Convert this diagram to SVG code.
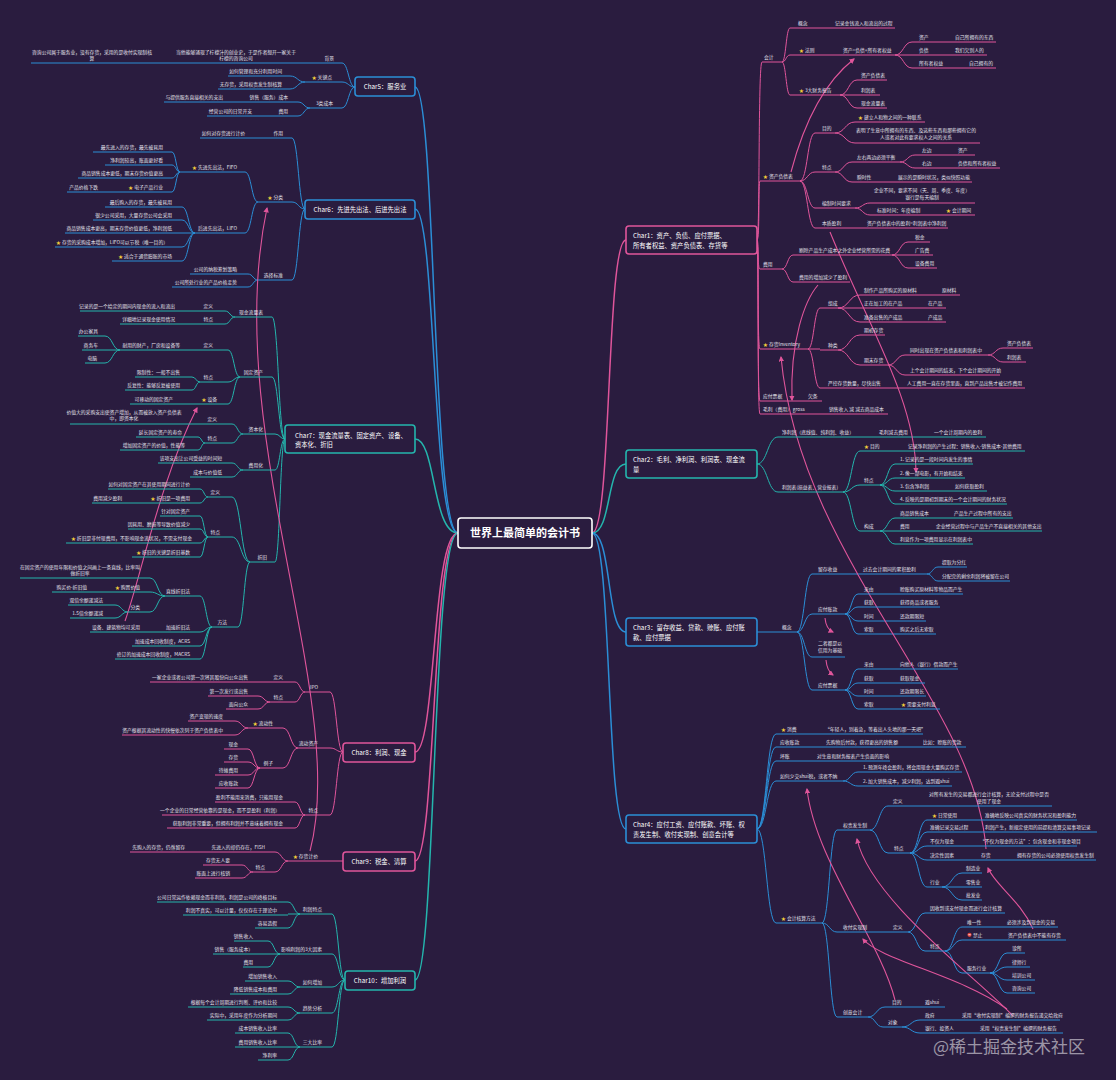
<svg xmlns="http://www.w3.org/2000/svg" width="1116" height="1080" viewBox="0 0 1116 1080">
<defs>
<marker id="arr" viewBox="0 0 10 10" refX="8" refY="5" markerWidth="5" markerHeight="5" orient="auto"><path d="M0 0L10 5L0 10z" fill="#e0559b"/></marker>
</defs>
<style>
.t{font-family:"Noto Sans CJK SC","Noto Sans",sans-serif;font-size:4.8px;fill:#e6e4ee}
.e{text-anchor:end}
.m{text-anchor:middle}
.s{fill:#f6d23a}
.P,.G,.B{fill:none;stroke-width:1}
.P{stroke:#e0559b}.G{stroke:#24b5ad}.B{stroke:#2b8ed6}
.L{stroke-width:1.5}
.bx{fill:#2a1c3f;stroke-width:1.6}
.ct{font-family:"Noto Sans CJK SC","Noto Sans",sans-serif;font-size:6.3px;fill:#ffffff}
.rel{fill:none;stroke:#e0559b;stroke-width:1.1;marker-end:url(#arr)}
</style>
<rect width="1116" height="1080" fill="#2a1c3f"/>

<g id="connectors">
<path class="P L" d="M592 533C612 533 606 240 626 240"/>
<path class="G L" d="M592 533C612 533 606 464 626 464"/>
<path class="B L" d="M592 533C612 533 606 632 626 632"/>
<path class="B L" d="M592 533C612 533 606 829 626 829"/>
<path class="B L" d="M458 533C432 533 436 87 415 87"/>
<path class="B L" d="M458 533C432 533 436 209 415 209"/>
<path class="G L" d="M458 533C432 533 436 439 415 439"/>
<path class="P L" d="M458 533C432 533 436 752 415 752"/>
<path class="P L" d="M458 533C432 533 436 861 415 861"/>
<path class="G L" d="M458 533C432 533 436 980 415 980"/>

<path class="P" d="M757 240C760 240 758 62 762 62M757 240C760 240 758 181 760 181M757 240C759 240 757 269 760 269M757 240C759 240 757 349 760 349M757 240C759 240 757 401 760 401M757 240C759 240 757 414 760 414"/>
<path class="P" d="M782 62C786 62 786 28 790 28M782 62C786 62 786 55 790 55M782 62C786 62 786 95 790 95M812 28H830M822 55H838M895 55C903.5 55 903.5 42 912 42M895 55H912M895 55C903.5 55 903.5 68 912 68M935 42H950M935 55H950M947 68H965M840 95C848.5 95 848.5 80 857 80M840 95H857M840 95C848.5 95 848.5 108 857 108"/>
<path class="P" d="M800 181C807.5 181 807.5 133 815 133M800 181C807.5 181 807.5 172 815 172M800 181C807.5 181 807.5 208 815 208M800 181C807.5 181 807.5 228 815 228M835 133C845 133 845 122 855 122M835 133C845 133 845 143 855 143M835 172C843.5 172 843.5 162 852 162M835 172C843.5 172 843.5 182 852 182M900 162C907.5 162 907.5 155 915 155M900 162C907.5 162 907.5 168 915 168M937 155H952M937 168H952M877 182H893M855 208C862.5 208 862.5 203 870 203M855 208C862.5 208 862.5 215 870 215M922 215H942M845 228H862"/>
<path class="P" d="M782 269C787.5 269 787.5 255 793 255M782 269C787.5 269 787.5 282 793 282M892 255C900 255 900 242 908 242M892 255H908M892 255C900 255 900 268 908 268"/>
<path class="P" d="M808 349C814 349 814 308 820 308M808 349H820M808 349C814 349 814 388 820 388M838 308C849 308 849 295 860 295M838 308H860M838 308C849 308 849 322 860 322M918 295H938M907 308H924M907 322H924M838 350C849 350 849 335 860 335M838 350C849 350 849 365 860 365M888 365C896.5 365 896.5 355 905 355M888 365C896.5 365 896.5 375 905 375M988 355C995.5 355 995.5 348 1003 348M988 355C995.5 355 995.5 362 1003 362M885 388H902M790 401H803M815 414H825"/>

<path class="G" d="M757 464C767.5 464 767.5 437 778 437M757 464C767.5 464 767.5 492 778 492M852 437H874M910 437H930M843 492C851.5 492 851.5 451 860 451M843 492C851.5 492 851.5 485 860 485M843 492C851.5 492 851.5 531 860 531M885 451H903M880 485C887.5 485 887.5 464 895 464M880 485C887.5 485 887.5 478 895 478M880 485C887.5 485 887.5 491 895 491M880 485C887.5 485 887.5 504 895 504M932 491H950M880 531C887.5 531 887.5 518 895 518M880 531H895M880 531C887.5 531 887.5 544 895 544M932 518H950M912 531H932"/>

<path class="B" d="M757 632H775M797 632C804.5 632 804.5 574 812 574M797 632C804.5 632 804.5 614 812 614M797 632C804.5 632 804.5 657 812 657M797 632C804.5 632 804.5 690 812 690M845 574H858M927 574C932.5 574 932.5 567 938 567M927 574C932.5 574 932.5 581 938 581M845 614C851.5 614 851.5 594 858 594M845 614C851.5 614 851.5 607 858 607M845 614C851.5 614 851.5 621 858 621M845 614C851.5 614 851.5 634 858 634M880 594H896M880 607H896M880 621H896M880 634H896M845 690C851.5 690 851.5 669 858 669M845 690C851.5 690 851.5 683 858 683M845 690C851.5 690 851.5 696 858 696M845 690C851.5 690 851.5 709 858 709M880 669H896M880 683H896M880 696H896M880 709H896"/>

<path class="B" d="M757 829C766.5 829 766.5 734 776 734M757 829C766.5 829 766.5 747 776 747M757 829C766.5 829 766.5 761 776 761M757 829C766.5 829 766.5 781 776 781M757 829C766.5 829 766.5 923 776 923M800 734H820M806 747H820M900 747H918M795 761H812M843 781C850.5 781 850.5 772 858 772M843 781C850.5 781 850.5 786 858 786"/>
<path class="B" d="M822 923C829.5 923 829.5 830 837 830M822 923C829.5 923 829.5 932 837 932M822 923C829.5 923 829.5 1017 837 1017M870 830C879 830 879 806 888 806M870 830C879 830 879 853 888 853M908 806H925M910 853C918.5 853 918.5 820 927 820M910 853C918.5 853 918.5 832 927 832M910 853C918.5 853 918.5 846 927 846M910 853C918.5 853 918.5 860 927 860M910 853C918.5 853 918.5 887 927 887M963 820H980M970 832H980M956 846H975M956 860H976M995 860H1012M942 887C952 887 952 873 962 873M942 887H962M942 887C952 887 952 900 962 900"/>
<path class="B" d="M870 932H888M908 932C916.5 932 916.5 913 925 913M908 932C916.5 932 916.5 951 925 951M945 951C953.5 951 953.5 927 962 927M945 951C953.5 951 953.5 940 962 940M945 951C953.5 951 953.5 973 962 973M985 927H1002M988 940H1003M990 973C998.5 973 998.5 953 1007 953M990 973C998.5 973 998.5 967 1007 967M990 973C998.5 973 998.5 980 1007 980M990 973C998.5 973 998.5 993 1007 993M868 1017C876.5 1017 876.5 1007 885 1007M868 1017C875.5 1017 875.5 1027 883 1027M905 1007H920M902 1027C911 1027 911 1020 920 1020M902 1027C911 1027 911 1033 920 1033M940 1020H957M956 1033H975"/>

<path class="B" d="M355 87C348.5 87 348.5 63 342 63M355 87C348.5 87 348.5 82 342 82M355 87C348.5 87 348.5 108 342 108M318 63H300M175 63H155M305 82C297.5 82 297.5 76 290 76M305 82C297.5 82 297.5 89 290 89M310 108C304 108 304 102 298 102M310 108C304 108 304 116 298 116M245 102H240M275 116H270"/>
<path class="B" d="M305 209C298.5 209 298.5 138 292 138M305 209C298.5 209 298.5 202 292 202M305 209C298.5 209 298.5 280 292 280M268 138H262M258 202C251.5 202 251.5 172 245 172M258 202C251.5 202 251.5 233 245 233M180 172C176 172 176 152 172 152M180 172C176 172 176 165 172 165M180 172C176 172 176 178 172 178M180 172C176 172 176 192 172 192M120 192H112M195 233C188.5 233 188.5 207 182 207M195 233C188.5 233 188.5 220 182 220M195 233H182M195 233C188.5 233 188.5 247 182 247M195 233C188.5 233 188.5 261 182 261M258 280C253 280 253 274 248 274M258 280C253 280 253 287 248 287"/>
<path class="G" d="M285 439C278.5 439 278.5 317 272 317M285 439C278.5 439 278.5 377 272 377M285 439C280 439 280 434 275 434M285 439C280 439 280 470 275 470M285 439C280 439 280 562 275 562M235 317C230 317 230 311 225 311M235 317C230 317 230 324 225 324M198 311H192M198 324H192M240 377C234 377 234 350 228 350M240 377C234 377 234 382 228 382M240 377C234 377 234 404 228 404M200 350H195M120 350C112.5 350 112.5 336 105 336M120 350H105M120 350C112.5 350 112.5 363 105 363M200 382C196 382 196 377 192 377M200 382C196 382 196 390 192 390M197 404H190"/>
<path class="G" d="M243 434C237.5 434 237.5 424 232 424M243 434C237.5 434 237.5 443 232 443M205 424H195M205 443C201.5 443 201.5 437 198 437M205 443C201.5 443 201.5 450 198 450M243 470C237.5 470 237.5 463 232 463M243 470C237.5 470 237.5 477 232 477M250 562C241 562 241 497 232 497M250 562C241 562 241 537 232 537M250 562C244 562 244 627 238 627M208 497C204 497 204 489 200 489M208 497C204 497 204 503 200 503M147 503H140M208 537C204 537 204 516 200 516M208 537C204 537 204 529 200 529M208 537C204 537 204 543 200 543M208 537C204 537 204 557 200 557M212 627C206 627 206 596 200 596M212 627C206 627 206 632 200 632M212 627C206 627 206 646 200 646M212 627C206 627 206 659 200 659M165 596C157.5 596 157.5 578 150 578M165 596C157.5 596 157.5 592 150 592M165 596C157.5 596 157.5 612 150 612M110 592H100M128 612C121.5 612 121.5 605 115 605M128 612C121.5 612 121.5 618 115 618M165 632H155"/>
<path class="P" d="M343 752C336.5 752 336.5 692 330 692M343 752C336.5 752 336.5 748 330 748M343 752C336.5 752 336.5 815 330 815M305 692C300 692 300 682 295 682M305 692C300 692 300 702 295 702M270 682H262M270 702C264 702 264 696 258 696M270 702C264 702 264 709 258 709M298 748C290.5 748 290.5 728 283 728M298 748C290.5 748 290.5 768 283 768M248 728C241.5 728 241.5 721 235 721M248 728C241.5 728 241.5 735 235 735M260 768C254 768 254 749 248 749M260 768C254 768 254 762 248 762M260 768C254 768 254 775 248 775M260 768C254 768 254 788 248 788M305 815C300 815 300 802 295 802M305 815H295M305 815C300 815 300 828 295 828"/>
<path class="P" d="M343 861H330M288 861C281.5 861 281.5 852 275 852M288 861C281.5 861 281.5 872 275 872M210 852H205M253 872C247.5 872 247.5 865 242 865M253 872C247.5 872 247.5 878 242 878"/>
<path class="G" d="M345 980C338.5 980 338.5 914 332 914M345 980C338.5 980 338.5 954 332 954M345 980C338.5 980 338.5 987 332 987M345 980C338.5 980 338.5 1013 332 1013M345 980C338.5 980 338.5 1047 332 1047M300 914C294 914 294 902 288 902M300 914H288M300 914C294 914 294 928 288 928M280 954C274 954 274 941 268 941M280 954H268M280 954C274 954 274 967 268 967M300 987C294 987 294 981 288 981M300 987C294 987 294 994 288 994M300 1013C294 1013 294 1007 288 1007M300 1013C294 1013 294 1020 288 1020M300 1047C294 1047 294 1033 288 1033M300 1047H288M300 1047C294 1047 294 1060 288 1060"/>
</g>

<g id="relations">
<path class="rel" d="M791 172Q812 92 854 59"/>
<path class="rel" d="M818 285C805 300 790 340 792 400"/>
<path class="rel" d="M986 849C975 700 800 560 781 357"/>
<path class="rel" d="M830 232C870 330 915 400 916 472"/>
<path class="rel" d="M825 618Q826 629 833 632"/>
<path class="rel" d="M826 660Q827 671 833 675"/>
<path class="rel" d="M895 1000C880 940 815 860 807 789"/>
<path class="rel" d="M1013 1016C980 980 870 900 857 839"/>
<path class="rel" d="M1007 1009C960 975 880 960 863 939"/>
<path class="rel" d="M1033 929C1020 900 995 885 988 868"/>
<path class="rel" d="M310 851C350 700 220 430 267 208"/>
<path class="rel" d="M125 621C140 580 160 480 197 408"/>
</g>

<g id="root"><rect x="458" y="518" width="134" height="30" rx="3" fill="#2a1c3f" stroke="#ffffff" stroke-width="1.6"/><text x="525" y="537" text-anchor="middle" font-family="Noto Sans CJK SC, Noto Sans, sans-serif" font-size="11" font-weight="bold" fill="#ffffff">世界上最简单的会计书</text></g>

<g id="char1"><rect class="bx" x="626" y="226" width="131" height="28" rx="3" stroke="#e0559b"/><text class="ct" x="633" y="237.5">Char1：资产、负债、应付票据、</text><text class="ct" x="633" y="247.5">所有者权益、资产负债表、存货等</text></g>
<g id="char2"><rect class="bx" x="626" y="450" width="131" height="28" rx="3" stroke="#24b5ad"/><text class="ct" x="633" y="461.5">Char2：毛利、净利润、利润表、现金流</text><text class="ct" x="633" y="471.5">量</text></g>
<g id="char3"><rect class="bx" x="626" y="618" width="131" height="28" rx="3" stroke="#2b8ed6"/><text class="ct" x="633" y="629.5">Char3：留存收益、贷款、赊账、应付账</text><text class="ct" x="633" y="639.5">款、应付票据</text></g>
<g id="char4"><rect class="bx" x="626" y="815" width="131" height="28" rx="3" stroke="#2b8ed6"/><text class="ct" x="633" y="826.5">Char4：应付工资、应付账款、坏账、权</text><text class="ct" x="633" y="836.5">责发生制、收付实现制、创意会计等</text></g>
<g id="char5"><rect class="bx" x="355" y="77" width="60" height="19" rx="3" stroke="#2b8ed6"/><text class="ct m" x="385" y="89">Char5：服务业</text></g>
<g id="char6"><rect class="bx" x="305" y="200" width="110" height="19" rx="3" stroke="#2b8ed6"/><text class="ct m" x="360" y="212">Char6：先进先出法、后进先出法</text></g>
<g id="char7"><rect class="bx" x="285" y="425" width="130" height="28" rx="3" stroke="#24b5ad"/><text class="ct" x="295" y="438">Char7：现金流量表、固定资产、设备、</text><text class="ct" x="295" y="447">资本化、折旧</text></g>
<g id="char8"><rect class="bx" x="343" y="743" width="72" height="19" rx="3" stroke="#e0559b"/><text class="ct m" x="379" y="755">Char8：利润、现金</text></g>
<g id="char9"><rect class="bx" x="343" y="852" width="72" height="19" rx="3" stroke="#e0559b"/><text class="ct m" x="379" y="864">Char9：税金、清算</text></g>
<g id="char10"><rect class="bx" x="345" y="971" width="70" height="19" rx="3" stroke="#24b5ad"/><text class="ct m" x="380" y="983">Char10：增加利润</text></g>

<g id="c1nodes">
<g id="c1a"><text class="t" x="764" y="58.5">会计</text><path class="P" d="M762 62H782"/></g>
<g id="c1a1"><text class="t" x="798" y="24.5">概念</text><path class="P" d="M790 28H812"/></g>
<g id="c1a1a"><text class="t" x="835" y="24.5">记录金钱流入和流出的过程</text><path class="P" d="M830 28H895"/></g>
<g id="c1a2"><text class="t" x="799" y="51.5"><tspan class="s">★</tspan> 法则</text><path class="P" d="M790 55H822"/></g>
<g id="c1a2a"><text class="t" x="843" y="51.5">资产=负债+所有者权益</text><path class="P" d="M838 55H895"/></g>
<g id="c1a2a1"><text class="t" x="919" y="38.5">资产</text><path class="P" d="M912 42H935"/></g>
<g id="c1a2a1a"><text class="t" x="955" y="38.5">自己所拥有的东西</text><path class="P" d="M950 42H996"/></g>
<g id="c1a2a2"><text class="t" x="919" y="51.5">负债</text><path class="P" d="M912 55H935"/></g>
<g id="c1a2a2a"><text class="t" x="955" y="51.5">我们欠别人的</text><path class="P" d="M950 55H987"/></g>
<g id="c1a2a3"><text class="t" x="919" y="64.5">所有者权益</text><path class="P" d="M912 68H947"/></g>
<g id="c1a2a3a"><text class="t" x="969" y="64.5">自己拥有的</text><path class="P" d="M965 68H996"/></g>
<g id="c1a3"><text class="t" x="799" y="91.5"><tspan class="s">★</tspan> 3大财务报告</text><path class="P" d="M790 95H840"/></g>
<g id="c1a3a"><text class="t" x="861" y="76.5">资产负债表</text><path class="P" d="M857 80H887"/></g>
<g id="c1a3b"><text class="t" x="861" y="91.5">利润表</text><path class="P" d="M857 95H880"/></g>
<g id="c1a3c"><text class="t" x="861" y="104.5">现金流量表</text><path class="P" d="M857 108H887"/></g>

<g id="c1b"><text class="t" x="763" y="177.5"><tspan class="s">★</tspan> 资产负债表</text><path class="P" d="M760 181H800"/></g>
<g id="c1b1"><text class="t" x="822" y="129.5">目的</text><path class="P" d="M815 133H835"/></g>
<g id="c1b1a"><text class="t" x="858" y="118.5"><tspan class="s">★</tspan> 建立人和物之间的一种联系</text><path class="P" d="M855 122H925"/></g>
<g id="c1b1b"><text class="t m" x="916" y="131.5">表明了生意中所拥有的东西、及这些东西和那些拥有它的</text><text class="t m" x="916" y="138.5">人或者对此有要求权人之间的关系</text><path class="P" d="M855 143H980"/></g>
<g id="c1b2"><text class="t" x="822" y="168.5">特点</text><path class="P" d="M815 172H835"/></g>
<g id="c1b2a"><text class="t" x="857" y="158.5">左右两边必须平衡</text><path class="P" d="M852 162H900"/></g>
<g id="c1b2a1"><text class="t" x="922" y="151.5">左边</text><path class="P" d="M915 155H937"/></g>
<g id="c1b2a1a"><text class="t" x="958" y="151.5">资产</text><path class="P" d="M952 155H975"/></g>
<g id="c1b2a2"><text class="t" x="922" y="164.5">右边</text><path class="P" d="M915 168H937"/></g>
<g id="c1b2a2a"><text class="t" x="958" y="164.5">负债和所有者权益</text><path class="P" d="M952 168H1000"/></g>
<g id="c1b2b"><text class="t" x="857" y="178.5">瞬时性</text><path class="P" d="M852 182H877"/></g>
<g id="c1b2b1"><text class="t" x="898" y="178.5">展示的是瞬时状况，类似快照功能</text><path class="P" d="M893 182H972"/></g>
<g id="c1b3"><text class="t" x="822" y="204.5">编制时间要求</text><path class="P" d="M815 208H855"/></g>
<g id="c1b3a"><text class="t m" x="922" y="191.5">企业不同，要求不同（天、周、季度、年度）</text><text class="t m" x="922" y="198.5">银行是每天编制</text><path class="P" d="M870 203H975"/></g>
<g id="c1b3b"><text class="t" x="877" y="211.5">标准时间：年度编制</text><path class="P" d="M870 215H922"/></g>
<g id="c1b3b1"><text class="t" x="946" y="211.5"><tspan class="s">★</tspan> 会计期间</text><path class="P" d="M942 215H975"/></g>
<g id="c1b4"><text class="t" x="822" y="224.5">本质盈利</text><path class="P" d="M815 228H845"/></g>
<g id="c1b4a"><text class="t" x="867" y="224.5">资产负债表中的盈利=利润表中净利润</text><path class="P" d="M862 228H948"/></g>

<g id="c1c"><text class="t" x="763" y="265.5">费用</text><path class="P" d="M760 269H782"/></g>
<g id="c1c1"><text class="t" x="799" y="251.5">剔除产品生产成本之外企业经营所需的花费</text><path class="P" d="M793 255H892"/></g>
<g id="c1c1a"><text class="t" x="915" y="238.5">税金</text><path class="P" d="M908 242H930"/></g>
<g id="c1c1b"><text class="t" x="915" y="251.5">广告费</text><path class="P" d="M908 255H933"/></g>
<g id="c1c1c"><text class="t" x="915" y="264.5">设备费用</text><path class="P" d="M908 268H937"/></g>
<g id="c1c2"><text class="t" x="799" y="278.5">费用的增加减少了盈利</text><path class="P" d="M793 282H850"/></g>

<g id="c1d"><text class="t" x="763" y="345.5"><tspan class="s">★</tspan> 存货Inventory</text><path class="P" d="M760 349H808"/></g>
<g id="c1d1"><text class="t" x="828" y="304.5">组成</text><path class="P" d="M820 308H838"/></g>
<g id="c1d1a"><text class="t" x="864" y="291.5">制作产品所购买的原材料</text><path class="P" d="M860 295H918"/></g>
<g id="c1d1a1"><text class="t" x="942" y="291.5">原材料</text><path class="P" d="M938 295H960"/></g>
<g id="c1d1b"><text class="t" x="864" y="304.5">正在加工的在产品</text><path class="P" d="M860 308H907"/></g>
<g id="c1d1b1"><text class="t" x="928" y="304.5">在产品</text><path class="P" d="M924 308H946"/></g>
<g id="c1d1c"><text class="t" x="864" y="318.5">准备出售的产成品</text><path class="P" d="M860 322H907"/></g>
<g id="c1d1c1"><text class="t" x="928" y="318.5">产成品</text><path class="P" d="M924 322H946"/></g>
<g id="c1d2"><text class="t" x="828" y="346.5">种类</text><path class="P" d="M820 350H838"/></g>
<g id="c1d2a"><text class="t" x="864" y="331.5">期初存货</text><path class="P" d="M860 335H885"/></g>
<g id="c1d2b"><text class="t" x="864" y="361.5">期末存货</text><path class="P" d="M860 365H888"/></g>
<g id="c1d2b1"><text class="t" x="910" y="351.5">同时出现在资产负债表和利润表中</text><path class="P" d="M905 355H988"/></g>
<g id="c1d2b1a"><text class="t" x="1007" y="344.5">资产负债表</text><path class="P" d="M1003 348H1033"/></g>
<g id="c1d2b1b"><text class="t" x="1007" y="358.5">利润表</text><path class="P" d="M1003 362H1026"/></g>
<g id="c1d2b2"><text class="t" x="910" y="371.5">上个会计期间的结束，下个会计期间的开始</text><path class="P" d="M905 375H1000"/></g>
<g id="c1d3"><text class="t" x="828" y="384.5">严控存货数量，尽快出售</text><path class="P" d="M820 388H885"/></g>
<g id="c1d3a"><text class="t" x="907" y="384.5">人工费用一直在存货里面，直到产品出售才被记作费用</text><path class="P" d="M902 388H1025"/></g>
<g id="c1e"><text class="t" x="763" y="397.5">应付票据</text><path class="P" d="M760 401H790"/></g>
<g id="c1e1"><text class="t" x="808" y="397.5">欠条</text><path class="P" d="M803 401H822"/></g>
<g id="c1f"><text class="t" x="763" y="410.5">毛利（费用） gross</text><path class="P" d="M760 414H815"/></g>
<g id="c1f1"><text class="t" x="829" y="410.5">销售收入 减 减去商品成本</text><path class="P" d="M825 414H888"/></g>
</g>

<g id="c2nodes">
<g id="c2a"><text class="t" x="782" y="433.5">净利润（底线值、纯利润、收益）</text><path class="G" d="M778 437H852"/></g>
<g id="c2a1"><text class="t" x="879" y="433.5">毛利减去费用</text><path class="G" d="M874 437H910"/></g>
<g id="c2a2"><text class="t" x="934" y="433.5">一个会计周期内的盈利</text><path class="G" d="M930 437H986"/></g>
<g id="c2b"><text class="t" x="782" y="488.5">利润表(损益表、营业报表)</text><path class="G" d="M778 492H843"/></g>
<g id="c2b1"><text class="t" x="864" y="447.5"><tspan class="s">★</tspan> 目的</text><path class="G" d="M860 451H885"/></g>
<g id="c2b1a"><text class="t" x="908" y="447.5">记录净利润的产生过程：销售收入-销售成本-其他费用</text><path class="G" d="M903 451H1025"/></g>
<g id="c2b2"><text class="t" x="864" y="481.5">特点</text><path class="G" d="M860 485H880"/></g>
<g id="c2b2a"><text class="t" x="900" y="460.5">1. 记录的是一段时间内发生的事情</text><path class="G" d="M895 464H973"/></g>
<g id="c2b2b"><text class="t" x="900" y="474.5">2. 像一部电影，有开始和结束</text><path class="G" d="M895 478H965"/></g>
<g id="c2b2c"><text class="t" x="900" y="487.5">3. 包含净利润</text><path class="G" d="M895 491H932"/></g>
<g id="c2b2c1"><text class="t" x="955" y="487.5">如何获取盈利</text><path class="G" d="M950 491H987"/></g>
<g id="c2b2d"><text class="t" x="900" y="500.5">4. 反映的是期初到期末的一个会计期间的财务状况</text><path class="G" d="M895 504H1007"/></g>
<g id="c2b3"><text class="t" x="864" y="527.5">构成</text><path class="G" d="M860 531H880"/></g>
<g id="c2b3a"><text class="t" x="900" y="514.5">商品销售成本</text><path class="G" d="M895 518H932"/></g>
<g id="c2b3a1"><text class="t" x="954" y="514.5">产品生产过程中所有的支出</text><path class="G" d="M950 518H1013"/></g>
<g id="c2b3b"><text class="t" x="900" y="527.5">费用</text><path class="G" d="M895 531H912"/></g>
<g id="c2b3b1"><text class="t" x="936" y="527.5">企业经营过程中与产品生产不直接相关的其他支出</text><path class="G" d="M932 531H1042"/></g>
<g id="c2b3c"><text class="t" x="900" y="540.5">利息作为一项费用显示在利润表中</text><path class="G" d="M895 544H973"/></g>
</g>

<g id="c3nodes">
<g id="c3a"><text class="t" x="782" y="628.5">概念</text><path class="B" d="M775 632H797"/></g>
<g id="c3a1"><text class="t" x="818" y="570.5">留存收益</text><path class="B" d="M812 574H845"/></g>
<g id="c3a1a"><text class="t" x="863" y="570.5">过去会计期间的累积盈利</text><path class="B" d="M858 574H927"/></g>
<g id="c3a1a1"><text class="t" x="942" y="563.5">提取为分红</text><path class="B" d="M938 567H967"/></g>
<g id="c3a1a2"><text class="t" x="942" y="577.5">分配完的剩余利润将被留在公司</text><path class="B" d="M938 581H1010"/></g>
<g id="c3a2"><text class="t" x="818" y="610.5">应付账款</text><path class="B" d="M812 614H845"/></g>
<g id="c3a2a"><text class="t" x="864" y="590.5">来由</text><path class="B" d="M858 594H880"/></g>
<g id="c3a2a1"><text class="t" x="900" y="590.5">赊账购买原材料等物品而产生</text><path class="B" d="M896 594H963"/></g>
<g id="c3a2b"><text class="t" x="864" y="603.5">获取</text><path class="B" d="M858 607H880"/></g>
<g id="c3a2b1"><text class="t" x="900" y="603.5">获得商品或者服务</text><path class="B" d="M896 607H940"/></g>
<g id="c3a2c"><text class="t" x="864" y="617.5">时间</text><path class="B" d="M858 621H880"/></g>
<g id="c3a2c1"><text class="t" x="900" y="617.5">还款期限短</text><path class="B" d="M896 621H926"/></g>
<g id="c3a2d"><text class="t" x="864" y="630.5">索取</text><path class="B" d="M858 634H880"/></g>
<g id="c3a2d1"><text class="t" x="900" y="630.5">购买之后无索取</text><path class="B" d="M896 634H936"/></g>
<g id="c3a3"><text class="t" x="818" y="645">二者都是以</text><text class="t" x="818" y="651.5">信用为基础</text><path class="B" d="M812 657H845"/></g>
<g id="c3a4"><text class="t" x="818" y="686.5">应付票据</text><path class="B" d="M812 690H845"/></g>
<g id="c3a4a"><text class="t" x="864" y="665.5">来由</text><path class="B" d="M858 669H880"/></g>
<g id="c3a4a1"><text class="t" x="900" y="665.5">向他人（银行）借款而产生</text><path class="B" d="M896 669H958"/></g>
<g id="c3a4b"><text class="t" x="864" y="679.5">获取</text><path class="B" d="M858 683H880"/></g>
<g id="c3a4b1"><text class="t" x="900" y="679.5">获取现金</text><path class="B" d="M896 683H925"/></g>
<g id="c3a4c"><text class="t" x="864" y="692.5">时间</text><path class="B" d="M858 696H880"/></g>
<g id="c3a4c1"><text class="t" x="900" y="692.5">还款期限长</text><path class="B" d="M896 696H926"/></g>
<g id="c3a4d"><text class="t" x="864" y="705.5">索取</text><path class="B" d="M858 709H880"/></g>
<g id="c3a4d1"><text class="t" x="901" y="705.5"><tspan class="s">★</tspan> 需要支付利息</text><path class="B" d="M896 709H940"/></g>
</g>

<g id="c4nodes">
<g id="c4a"><text class="t" x="781" y="730.5"><tspan class="s">★</tspan> 消费</text><path class="B" d="M776 734H800"/></g>
<g id="c4a1"><text class="t" x="825" y="730.5">“年轻人，别着急，等着出人头地的那一天吧”</text><path class="B" d="M820 734H923"/></g>
<g id="c4b"><text class="t" x="780" y="743.5">应收账款</text><path class="B" d="M776 747H806"/></g>
<g id="c4b1"><text class="t" x="826" y="743.5">先购物后付款，获得更高的销售额</text><path class="B" d="M820 747H900"/></g>
<g id="c4b2"><text class="t" x="923" y="743.5">比如：赊账的货款</text><path class="B" d="M918 747H966"/></g>
<g id="c4c"><text class="t" x="780" y="757.5">坏账</text><path class="B" d="M776 761H795"/></g>
<g id="c4c1"><text class="t" x="817" y="757.5">对生意和财务报表产生负面的影响</text><path class="B" d="M812 761H890"/></g>
<g id="c4d"><text class="t" x="780" y="777.5">如何少交shui税，或者不纳</text><path class="B" d="M776 781H843"/></g>
<g id="c4d1"><text class="t" x="863" y="768.5">1. 预测年终会盈利，将会用现金大量购买存货</text><path class="B" d="M858 772H962"/></g>
<g id="c4d2"><text class="t" x="863" y="782.5">2. 加大销售成本，减少利润，达到避shui</text><path class="B" d="M858 786H952"/></g>
<g id="c4e"><text class="t" x="781" y="919.5"><tspan class="s">★</tspan> 会计核算方法</text><path class="B" d="M776 923H822"/></g>
<g id="c4e1"><text class="t" x="843" y="826.5">权责发生制</text><path class="B" d="M837 830H870"/></g>
<g id="c4e1a"><text class="t" x="893" y="802.5">定义</text><path class="B" d="M888 806H908"/></g>
<g id="c4e1a1"><text class="t m" x="989" y="796">对所有发生的交易都进行会计核算，无论支付过程中是否</text><text class="t m" x="989" y="802.5">使用了现金</text><path class="B" d="M925 806H1052"/></g>
<g id="c4e1b"><text class="t" x="894" y="849.5">特点</text><path class="B" d="M888 853H910"/></g>
<g id="c4e1b1"><text class="t" x="932" y="816.5"><tspan class="s">★</tspan> 日常使用</text><path class="B" d="M927 820H963"/></g>
<g id="c4e1b1a"><text class="t" x="985" y="816.5">准确地反映公司真实的财务状况和盈利能力</text><path class="B" d="M980 820H1077"/></g>
<g id="c4e1b2"><text class="t" x="930" y="828.5">准确记录交易过程</text><path class="B" d="M927 832H970"/></g>
<g id="c4e1b2a"><text class="t" x="985" y="828.5">利润产生，新规定使用的前提和清算交易事项记录</text><path class="B" d="M980 832H1097"/></g>
<g id="c4e1b3"><text class="t" x="930" y="842.5">不仅为现金</text><path class="B" d="M927 846H956"/></g>
<g id="c4e1b3a"><text class="t" x="980" y="842.5">“不仅为现金的方法”：包含现金和非现金项目</text><path class="B" d="M975 846H1077"/></g>
<g id="c4e1b4"><text class="t" x="930" y="856.5">决定性因素</text><path class="B" d="M927 860H956"/></g>
<g id="c4e1b4a"><text class="t" x="981" y="856.5">存货</text><path class="B" d="M976 860H995"/></g>
<g id="c4e1b4b"><text class="t" x="1017" y="856.5">拥有存货的公司必须使用权责发生制</text><path class="B" d="M1012 860H1096"/></g>
<g id="c4e1b5"><text class="t" x="930" y="883.5">行业</text><path class="B" d="M927 887H942"/></g>
<g id="c4e1b5a"><text class="t" x="966" y="869.5">制造业</text><path class="B" d="M962 873H982"/></g>
<g id="c4e1b5b"><text class="t" x="966" y="883.5">零售业</text><path class="B" d="M962 887H982"/></g>
<g id="c4e1b5c"><text class="t" x="966" y="896.5">批发业</text><path class="B" d="M962 900H982"/></g>
<g id="c4e2"><text class="t" x="843" y="928.5">收付实现制</text><path class="B" d="M837 932H870"/></g>
<g id="c4e2a"><text class="t" x="893" y="928.5">定义</text><path class="B" d="M888 932H908"/></g>
<g id="c4e2a1"><text class="t" x="930" y="909.5">因收到或支付现金而进行会计核算</text><path class="B" d="M925 913H1005"/></g>
<g id="c4e2b"><text class="t" x="930" y="947.5">特点</text><path class="B" d="M925 951H945"/></g>
<g id="c4e2b1"><text class="t" x="967" y="923.5">唯一性</text><path class="B" d="M962 927H985"/></g>
<g id="c4e2b1a"><text class="t" x="1007" y="923.5">必须涉及到现金的交易</text><path class="B" d="M1002 927H1058"/></g>
<g id="c4e2b2"><circle cx="969.5" cy="934.8" r="2.1" fill="#e0403a"/><rect x="968.3" y="934.4" width="2.4" height="0.8" fill="#ffffff"/><text class="t" x="973" y="936.5">禁止</text><path class="B" d="M962 940H988"/></g>
<g id="c4e2b2a"><text class="t" x="1008" y="936.5">资产负债表中不能有存货</text><path class="B" d="M1003 940H1066"/></g>
<g id="c4e2b3"><text class="t" x="967" y="969.5">服务行业</text><path class="B" d="M962 973H990"/></g>
<g id="c4e2b3a"><text class="t" x="1012" y="949.5">诊所</text><path class="B" d="M1007 953H1025"/></g>
<g id="c4e2b3b"><text class="t" x="1012" y="963.5">律师行</text><path class="B" d="M1007 967H1030"/></g>
<g id="c4e2b3c"><text class="t" x="1012" y="976.5">培训公司</text><path class="B" d="M1007 980H1035"/></g>
<g id="c4e2b3d"><text class="t" x="1012" y="989.5">咨询公司</text><path class="B" d="M1007 993H1035"/></g>
<g id="c4e3"><text class="t" x="843" y="1013.5">创意会计</text><path class="B" d="M837 1017H868"/></g>
<g id="c4e3a"><text class="t" x="892" y="1003.5">目的</text><path class="B" d="M885 1007H905"/></g>
<g id="c4e3a1"><text class="t" x="925" y="1003.5">避shui</text><path class="B" d="M920 1007H945"/></g>
<g id="c4e3b"><text class="t" x="888" y="1023.5">对象</text><path class="B" d="M883 1027H902"/></g>
<g id="c4e3b1"><text class="t" x="925" y="1016.5">政府</text><path class="B" d="M920 1020H940"/></g>
<g id="c4e3b1a"><text class="t" x="962" y="1016.5">采用“收付实现制”编撰的财务报告递交给政府</text><path class="B" d="M957 1020H1060"/></g>
<g id="c4e3b2"><text class="t" x="925" y="1029.5">银行、投资人</text><path class="B" d="M920 1033H956"/></g>
<g id="c4e3b2a"><text class="t" x="980" y="1029.5">采用“权责发生制”编撰的财务报告</text><path class="B" d="M975 1033H1063"/></g>
</g>

<g id="c5nodes">
<g id="c5a"><text class="t e" x="334" y="59.5">背景</text><path class="B" d="M318 63H342"/></g>
<g id="c5a1"><text class="t m" x="236" y="53.5">当他能够涌现了柠檬汁的创业史，于是作者想开一家关于</text><text class="t m" x="236" y="60">柠檬的咨询公司</text><path class="B" d="M175 63H300"/></g>
<g id="c5a2"><text class="t m" x="92" y="53.5">咨询公司属于服务业，没有存货，采用的是收付实现制核</text><text class="t m" x="92" y="60">算</text><path class="B" d="M31 63H155"/></g>
<g id="c5b"><text class="t e" x="332" y="78.5"><tspan class="s">★</tspan> 关键点</text><path class="B" d="M305 82H342"/></g>
<g id="c5b1"><text class="t e" x="282" y="72.5">如何管理和充分利用时间</text><path class="B" d="M228 76H290"/></g>
<g id="c5b2"><text class="t e" x="282" y="85.5">无存货，采用权责发生制核算</text><path class="B" d="M218 89H290"/></g>
<g id="c5c"><text class="t e" x="333" y="104.5">3类成本</text><path class="B" d="M310 108H342"/></g>
<g id="c5c1"><text class="t e" x="288" y="98.5">销售（服务）成本</text><path class="B" d="M245 102H298"/></g>
<g id="c5c1a"><text class="t e" x="223" y="98.5">与提供服务直接相关的支出</text><path class="B" d="M164 102H240"/></g>
<g id="c5c2"><text class="t e" x="288" y="112.5">费用</text><path class="B" d="M275 116H298"/></g>
<g id="c5c2a"><text class="t e" x="252" y="112.5">经营公司的日常开支</text><path class="B" d="M207 116H270"/></g>
</g>

<g id="c6nodes">
<g id="c6a"><text class="t e" x="283" y="134.5">作用</text><path class="B" d="M268 138H292"/></g>
<g id="c6a1"><text class="t e" x="245" y="134.5">如何对存货进行计价</text><path class="B" d="M200 138H262"/></g>
<g id="c6b"><text class="t e" x="283" y="198.5"><tspan class="s">★</tspan> 分类</text><path class="B" d="M258 202H292"/></g>
<g id="c6b1"><text class="t e" x="237" y="168.5"><tspan class="s">★</tspan> 先进先出法，FIFO</text><path class="B" d="M180 172H245"/></g>
<g id="c6b1a"><text class="t e" x="163" y="148.5">最先进入的存货，最先被耗用</text><path class="B" d="M93 152H172"/></g>
<g id="c6b1b"><text class="t e" x="163" y="161.5">净利润较高，账面更好看</text><path class="B" d="M105 165H172"/></g>
<g id="c6b1c"><text class="t e" x="163" y="174.5">商品销售成本更低，期末存货价值更高</text><path class="B" d="M78 178H172"/></g>
<g id="c6b1d"><text class="t e" x="163" y="188.5"><tspan class="s">★</tspan> 电子产品行业</text><path class="B" d="M120 192H172"/></g>
<g id="c6b1d1"><text class="t e" x="98" y="188.5">产品价格下跌</text><path class="B" d="M67 192H112"/></g>
<g id="c6b2"><text class="t e" x="237" y="229.5">后进先出法，LIFO</text><path class="B" d="M195 233H245"/></g>
<g id="c6b2a"><text class="t e" x="172" y="203.5">最后购入的存货，最先被耗用</text><path class="B" d="M105 207H182"/></g>
<g id="c6b2b"><text class="t e" x="172" y="216.5">很少公司采用，大量存货公司会采用</text><path class="B" d="M93 220H182"/></g>
<g id="c6b2c"><text class="t e" x="172" y="229.5">商品销售成本更高，期末存货价值更低，净利润低</text><path class="B" d="M65 233H182"/></g>
<g id="c6b2d"><text class="t e" x="168" y="243.5"><tspan class="s">★</tspan> 存货的采购成本增加，LIFO可以节税（唯一目的）</text><path class="B" d="M55 247H182"/></g>
<g id="c6b2e"><text class="t e" x="172" y="257.5"><tspan class="s">★</tspan> 适合于通货膨胀的市场</text><path class="B" d="M112 261H182"/></g>
<g id="c6c"><text class="t e" x="283" y="276.5">选择标准</text><path class="B" d="M258 280H292"/></g>
<g id="c6c1"><text class="t e" x="237" y="270.5">公司的纳税筹划策略</text><path class="B" d="M190 274H248"/></g>
<g id="c6c2"><text class="t e" x="237" y="283.5">公司所处行业的产品价格走势</text><path class="B" d="M172 287H248"/></g>
</g>

<g id="c7nodes">
<g id="c7a"><text class="t e" x="263" y="313.5">现金流量表</text><path class="G" d="M235 317H272"/></g>
<g id="c7a1"><text class="t e" x="213" y="307.5">定义</text><path class="G" d="M198 311H225"/></g>
<g id="c7a1a"><text class="t e" x="175" y="307.5">记录的是一个给定的期间内现金的流入和流出</text><path class="G" d="M80 311H192"/></g>
<g id="c7a2"><text class="t e" x="213" y="320.5">特点</text><path class="G" d="M198 324H225"/></g>
<g id="c7a2a"><text class="t e" x="175" y="320.5">详细地记录现金使用情况</text><path class="G" d="M120 324H192"/></g>
<g id="c7b"><text class="t e" x="263" y="373.5">固定资产</text><path class="G" d="M240 377H272"/></g>
<g id="c7b1"><text class="t e" x="213" y="346.5">定义</text><path class="G" d="M200 350H228"/></g>
<g id="c7b1a"><text class="t e" x="180" y="346.5">耐用的财产，厂房和设备等</text><path class="G" d="M120 350H195"/></g>
<g id="c7b1a1"><text class="t e" x="98" y="332.5">办公家具</text><path class="G" d="M78 336H105"/></g>
<g id="c7b1a2"><text class="t e" x="98" y="346.5">商务车</text><path class="G" d="M82 350H105"/></g>
<g id="c7b1a3"><text class="t e" x="97" y="359.5">电脑</text><path class="G" d="M85 363H105"/></g>
<g id="c7b2"><text class="t e" x="213" y="378.5">特点</text><path class="G" d="M200 382H228"/></g>
<g id="c7b2a"><text class="t e" x="180" y="373.5">限制性：一般不出售</text><path class="G" d="M135 377H192"/></g>
<g id="c7b2b"><text class="t e" x="180" y="386.5">反复性：能够反复被使用</text><path class="G" d="M125 390H192"/></g>
<g id="c7b3"><text class="t e" x="217" y="400.5"><tspan class="s">★</tspan> 设备</text><path class="G" d="M197 404H228"/></g>
<g id="c7b3a"><text class="t e" x="173" y="400.5">可移动的固定资产</text><path class="G" d="M130 404H190"/></g>
<g id="c7c"><text class="t e" x="263" y="430.5">资本化</text><path class="G" d="M243 434H275"/></g>
<g id="c7c1"><text class="t e" x="217" y="420.5">定义</text><path class="G" d="M205 424H232"/></g>
<g id="c7c1a"><text class="t m" x="124" y="413.5">价值大的采购支出使资产增加，从而被放入资产负债表</text><text class="t m" x="124" y="420">中，即资本化</text><path class="G" d="M70 424H195"/></g>
<g id="c7c2"><text class="t e" x="217" y="439.5">特点</text><path class="G" d="M205 443H232"/></g>
<g id="c7c2a"><text class="t e" x="182" y="433.5">延长固定资产的寿命</text><path class="G" d="M136 437H198"/></g>
<g id="c7c2b"><text class="t e" x="185" y="446.5">增加固定资产的价值，性能等</text><path class="G" d="M120 450H198"/></g>
<g id="c7d"><text class="t e" x="263" y="466.5">费用化</text><path class="G" d="M243 470H275"/></g>
<g id="c7d1"><text class="t e" x="222" y="459.5">该项支出让公司受益的时间短</text><path class="G" d="M158 463H232"/></g>
<g id="c7d2"><text class="t e" x="222" y="473.5">成本与价值低</text><path class="G" d="M190 477H232"/></g>
<g id="c7e"><text class="t e" x="267" y="558.5">折旧</text><path class="G" d="M250 562H275"/></g>
<g id="c7e1"><text class="t e" x="220" y="493.5">定义</text><path class="G" d="M208 497H232"/></g>
<g id="c7e1a"><text class="t e" x="190" y="485.5">如何对固定资产在其使用期间进行计价</text><path class="G" d="M108 489H200"/></g>
<g id="c7e1b"><text class="t e" x="190" y="499.5"><tspan class="s">★</tspan> 折旧是一项费用</text><path class="G" d="M147 503H200"/></g>
<g id="c7e1b1"><text class="t e" x="122" y="499.5">费用减少盈利</text><path class="G" d="M92 503H140"/></g>
<g id="c7e2"><text class="t e" x="220" y="533.5">特点</text><path class="G" d="M208 537H232"/></g>
<g id="c7e2a"><text class="t e" x="190" y="512.5">针对固定资产</text><path class="G" d="M160 516H200"/></g>
<g id="c7e2b"><text class="t e" x="190" y="525.5">因耗用、磨损等导致价值减少</text><path class="G" d="M128 529H200"/></g>
<g id="c7e2c"><text class="t e" x="192" y="539.5"><tspan class="s">★</tspan> 折旧是非付现费用，不影响现金流状况，不需支付现金</text><path class="G" d="M66 543H200"/></g>
<g id="c7e2d"><text class="t e" x="190" y="553.5"><tspan class="s">★</tspan> 折旧的关键是折旧基数</text><path class="G" d="M132 557H200"/></g>
<g id="c7e3"><text class="t e" x="227" y="623.5">方法</text><path class="G" d="M212 627H238"/></g>
<g id="c7e3a"><text class="t e" x="190" y="592.5">直线折旧法</text><path class="G" d="M165 596H200"/></g>
<g id="c7e3a1"><text class="t m" x="80" y="568.5">在固定资产的使用年限和价值之间画上一条直线，比率叫</text><text class="t m" x="80" y="575">做折旧率</text><path class="G" d="M20 578H150"/></g>
<g id="c7e3a2"><text class="t e" x="140" y="588.5"><tspan class="s">★</tspan> 购置价值</text><path class="G" d="M110 592H150"/></g>
<g id="c7e3a2a"><text class="t e" x="87" y="588.5">购买价-折旧值</text><path class="G" d="M52 592H100"/></g>
<g id="c7e3a3"><text class="t e" x="140" y="608.5">分类</text><path class="G" d="M128 612H150"/></g>
<g id="c7e3a3a"><text class="t e" x="103" y="601.5">双倍余额递减法</text><path class="G" d="M68 605H115"/></g>
<g id="c7e3a3b"><text class="t e" x="103" y="614.5">1.5倍余额递减</text><path class="G" d="M70 618H115"/></g>
<g id="c7e3b"><text class="t e" x="190" y="628.5">加速折旧法</text><path class="G" d="M165 632H200"/></g>
<g id="c7e3b1"><text class="t e" x="140" y="628.5">设备、建筑物均可采用</text><path class="G" d="M90 632H155"/></g>
<g id="c7e3c"><text class="t e" x="190" y="642.5">加速成本回收制度，ACRS</text><path class="G" d="M132 646H200"/></g>
<g id="c7e3d"><text class="t e" x="190" y="655.5">修订的加速成本回收制度，MACRS</text><path class="G" d="M115 659H200"/></g>
</g>

<g id="c8nodes">
<g id="c8a"><text class="t e" x="318" y="688.5">IPO</text><path class="P" d="M305 692H330"/></g>
<g id="c8a1"><text class="t e" x="283" y="678.5">定义</text><path class="P" d="M270 682H295"/></g>
<g id="c8a1a"><text class="t e" x="248" y="678.5">一家企业或者公司第一次将其股份向公众出售</text><path class="P" d="M150 682H262"/></g>
<g id="c8a2"><text class="t e" x="283" y="698.5">特点</text><path class="P" d="M270 702H295"/></g>
<g id="c8a2a"><text class="t e" x="248" y="692.5">第一次发行或出售</text><path class="P" d="M208 696H258"/></g>
<g id="c8a2b"><text class="t e" x="248" y="705.5">面向公众</text><path class="P" d="M226 709H258"/></g>
<g id="c8b"><text class="t e" x="318" y="744.5">流动资产</text><path class="P" d="M298 748H330"/></g>
<g id="c8b1"><text class="t e" x="273" y="724.5"><tspan class="s">★</tspan> 流动性</text><path class="P" d="M248 728H283"/></g>
<g id="c8b1a"><text class="t e" x="223" y="717.5">资产变现的速度</text><path class="P" d="M188 721H235"/></g>
<g id="c8b1b"><text class="t e" x="223" y="731.5">资产根据其流动性的快慢依次列于资产负债表中</text><path class="P" d="M122 735H235"/></g>
<g id="c8b2"><text class="t e" x="273" y="764.5">例子</text><path class="P" d="M260 768H283"/></g>
<g id="c8b2a"><text class="t e" x="238" y="745.5">现金</text><path class="P" d="M224 749H248"/></g>
<g id="c8b2b"><text class="t e" x="238" y="758.5">存货</text><path class="P" d="M224 762H248"/></g>
<g id="c8b2c"><text class="t e" x="238" y="771.5">待摊费用</text><path class="P" d="M215 775H248"/></g>
<g id="c8b2d"><text class="t e" x="238" y="784.5">应收账款</text><path class="P" d="M215 788H248"/></g>
<g id="c8c"><text class="t e" x="318" y="811.5">特点</text><path class="P" d="M305 815H330"/></g>
<g id="c8c1"><text class="t e" x="283" y="798.5">盈利不能用来消费，只能用现金</text><path class="P" d="M215 802H295"/></g>
<g id="c8c2"><text class="t e" x="280" y="811.5">一个企业的日常经营依靠的是现金，而不是盈利（利润）</text><path class="P" d="M162 815H295"/></g>
<g id="c8c3"><text class="t e" x="283" y="824.5">获取利润非常重要，但拥有利润并不意味着拥有现金</text><path class="P" d="M167 828H295"/></g>
</g>

<g id="c9nodes">
<g id="c9a"><text class="t e" x="318" y="857.5"><tspan class="s">★</tspan> 存货计价</text><path class="P" d="M288 861H330"/></g>
<g id="c9a1"><text class="t e" x="265" y="848.5">先进入的却仍存在，FISH</text><path class="P" d="M210 852H275"/></g>
<g id="c9a1a"><text class="t e" x="185" y="848.5">先购入的存货，仍然留存</text><path class="P" d="M130 852H205"/></g>
<g id="c9a2"><text class="t e" x="265" y="868.5">特点</text><path class="P" d="M253 872H275"/></g>
<g id="c9a2a"><text class="t e" x="230" y="861.5">存货无人要</text><path class="P" d="M203 865H242"/></g>
<g id="c9a2b"><text class="t e" x="230" y="874.5">账面上进行核销</text><path class="P" d="M195 878H242"/></g>
</g>

<g id="c10nodes">
<g id="c10a"><text class="t e" x="322" y="910.5">利润特点</text><path class="G" d="M300 914H332"/></g>
<g id="c10a1"><text class="t e" x="277" y="898.5">公司日常运作依赖现金而非利润，利润是公司的终极目标</text><path class="G" d="M157 902H288"/></g>
<g id="c10a2"><text class="t e" x="277" y="911.5">利润不真实，可以计量，仅仅存在于理论中</text><path class="G" d="M183 915H288"/></g>
<g id="c10a3"><text class="t e" x="277" y="924.5">容易造假</text><path class="G" d="M255 928H288"/></g>
<g id="c10b"><text class="t e" x="322" y="950.5">影响利润的3大因素</text><path class="G" d="M280 954H332"/></g>
<g id="c10b1"><text class="t e" x="253" y="937.5">销售收入</text><path class="G" d="M234 941H268"/></g>
<g id="c10b2"><text class="t e" x="253" y="950.5">销售（服务成本）</text><path class="G" d="M213 954H268"/></g>
<g id="c10b3"><text class="t e" x="253" y="963.5">费用</text><path class="G" d="M243 967H268"/></g>
<g id="c10c"><text class="t e" x="322" y="983.5">如何增加</text><path class="G" d="M300 987H332"/></g>
<g id="c10c1"><text class="t e" x="277" y="977.5">增加销售收入</text><path class="G" d="M245 981H288"/></g>
<g id="c10c2"><text class="t e" x="277" y="990.5">降低销售成本和费用</text><path class="G" d="M230 994H288"/></g>
<g id="c10d"><text class="t e" x="322" y="1009.5">趋势分析</text><path class="G" d="M300 1013H332"/></g>
<g id="c10d1"><text class="t e" x="277" y="1003.5">根据每个会计周期进行判断、评价和比较</text><path class="G" d="M188 1007H288"/></g>
<g id="c10d2"><text class="t e" x="277" y="1016.5">实际中，采用年度作为分析期间</text><path class="G" d="M207 1020H288"/></g>
<g id="c10e"><text class="t e" x="322" y="1043.5">三大比率</text><path class="G" d="M300 1047H332"/></g>
<g id="c10e1"><text class="t e" x="277" y="1029.5">成本销售收入比率</text><path class="G" d="M235 1033H288"/></g>
<g id="c10e2"><text class="t e" x="277" y="1043.5">费用销售收入比率</text><path class="G" d="M235 1047H288"/></g>
<g id="c10e3"><text class="t e" x="277" y="1056.5">净利率</text><path class="G" d="M258 1060H288"/></g>
</g>

<text x="1085" y="1053" text-anchor="end" font-family="Noto Sans CJK SC, Noto Sans, sans-serif" font-size="17" fill="#ffffff" fill-opacity="0.55">@稀土掘金技术社区</text>
</svg>
